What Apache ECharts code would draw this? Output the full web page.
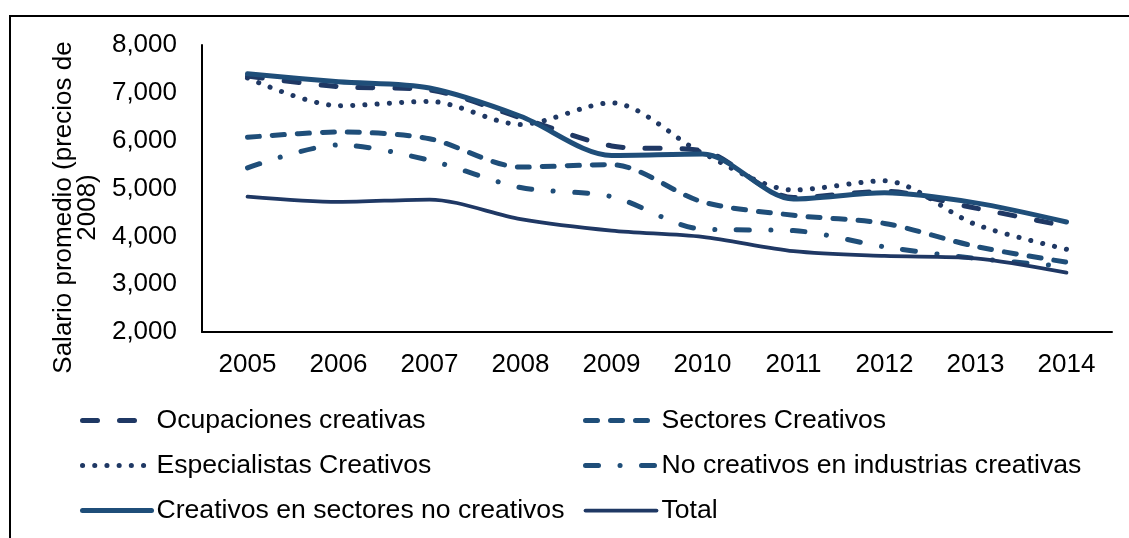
<!DOCTYPE html>
<html>
<head>
<meta charset="utf-8">
<script src="https://cdn.jsdelivr.net/npm/echarts@6/dist/echarts.min.js"></script>
<style>
  html, body { margin: 0; padding: 0; background: #fff; }
  #chart { width: 1129px; height: 538px; }
</style>
</head>
<body>
<div id="chart"></div>
<script>
// Average wage (2008 prices), 2005-2014
var years = ['2005', '2006', '2007', '2008', '2009', '2010', '2011', '2012', '2013', '2014'];
var ocupacionesCreativas = [7350, 7130, 7060, 6480, 5890, 5790, 4810, 4940, 4590, 4210];
var sectoresCreativos = [6070, 6180, 6040, 5450, 5500, 4720, 4440, 4270, 3790, 3460];
var especialistasCreativos = [7310, 6730, 6820, 6340, 6790, 5740, 4970, 5160, 4250, 3730];
var noCreativosIndustrias = [5430, 5910, 5590, 5020, 4830, 4150, 4120, 3780, 3540, 3370];
var creativosSectoresNo = [7400, 7230, 7100, 6510, 5690, 5720, 4780, 4910, 4700, 4300];
var total = [4830, 4720, 4770, 4360, 4120, 3990, 3690, 3590, 3540, 3240];

var FONT = 'Liberation Sans, Arial, sans-serif';
var FS = 26;
var BLUE = '#1F4E79';
var NAVY = '#1F3864';

// per-series stroke: colour, width, dash
var styles = {
  'Ocupaciones creativas': [NAVY, 5, [15, 22]],
  'Sectores Creativos': [BLUE, 5, [12, 13]],
  'Especialistas Creativos': [NAVY, 5, [0.1, 12.1]],
  'No creativos en industrias creativas': [BLUE, 5, [13, 21.5, 0.1, 21.4]],
  'Creativos en sectores no creativos': [BLUE, 5, 'solid'],
  'Total': [NAVY, 3.75, 'solid']
};

function lineSeries(name, data) {
  var s = styles[name];
  return {
    name: name,
    type: 'line',
    data: data,
    smooth: 0.3,
    symbol: 'none',
    lineStyle: { color: s[0], width: s[1], type: s[2], cap: 'round', join: 'round' },
    itemStyle: { color: s[0] }
  };
}

function legendItem(name) {
  var s = styles[name];
  return { name: name, lineStyle: { width: s[1], type: s[2], cap: 'round' } };
}

function legend(left, width, names) {
  return {
    orient: 'vertical', left: left, top: 407, padding: 0,
    itemWidth: width, itemHeight: 26, itemGap: 18,
    itemStyle: { opacity: 0 },
    textStyle: { color: '#000', fontSize: 26.6, fontFamily: FONT },
    data: names.map(legendItem)
  };
}

var chart = echarts.init(document.getElementById('chart'), null, { renderer: 'canvas' });
chart.setOption({
  animation: false,
  backgroundColor: '#ffffff',
  grid: { left: 202, right: 17, top: 45, bottom: 206 },
  xAxis: {
    type: 'category',
    data: years,
    boundaryGap: true,
    axisLine: { lineStyle: { color: '#000', width: 2 } },
    axisTick: { show: false },
    axisLabel: { color: '#000', fontSize: FS, fontFamily: FONT, margin: 20 }
  },
  yAxis: {
    type: 'value',
    min: 2000,
    max: 8000,
    interval: 1000,
    name: 'Salario promedio (precios de\n2008)',
    nameLocation: 'middle',
    nameRotate: 90,
    nameGap: 100,
    nameTextStyle: { color: '#000', fontSize: FS, fontFamily: FONT, lineHeight: 24, padding: [0, 38, 0, 0] },
    axisLine: { show: true, lineStyle: { color: '#000', width: 2 } },
    axisTick: { show: false },
    splitLine: { show: false },
    axisLabel: {
      color: '#000', fontSize: FS, fontFamily: FONT, margin: 25,
      formatter: function (v) { return v.toLocaleString('en-US'); }
    }
  },
  legend: [
    legend(80, 69, ['Ocupaciones creativas', 'Especialistas Creativos', 'Creativos en sectores no creativos']),
    legend(583, 71, ['Sectores Creativos', 'No creativos en industrias creativas', 'Total'])
  ],
  graphic: [
    {
      type: 'polyline',
      silent: true,
      shape: { points: [[10, 538], [10, 16], [1129, 16]] },
      style: { stroke: '#000', lineWidth: 2, fill: null }
    }
  ],
  series: [
    lineSeries('Ocupaciones creativas', ocupacionesCreativas),
    lineSeries('Sectores Creativos', sectoresCreativos),
    lineSeries('Especialistas Creativos', especialistasCreativos),
    lineSeries('No creativos en industrias creativas', noCreativosIndustrias),
    lineSeries('Creativos en sectores no creativos', creativosSectoresNo),
    lineSeries('Total', total)
  ]
});
</script>
</body>
</html>
